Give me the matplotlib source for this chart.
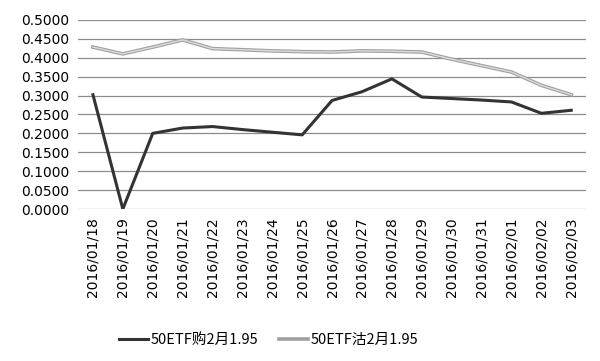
# 50ETF options price chart
import matplotlib
matplotlib.use("Agg")
from matplotlib import pyplot as plt

plt.rcParams['font.family'] = ['DejaVu Sans', 'Noto Sans CJK SC']

dates = ["2016/01/18", "2016/01/19", "2016/01/20", "2016/01/21", "2016/01/22",
         "2016/01/23", "2016/01/24", "2016/01/25", "2016/01/26", "2016/01/27",
         "2016/01/28", "2016/01/29", "2016/01/30", "2016/01/31", "2016/02/01",
         "2016/02/02", "2016/02/03"]
call_prices = [0.302, 0.000, 0.200, 0.214, 0.218, 0.210, 0.203, 0.196, 0.287,
               0.310, 0.344, 0.296, 0.292, 0.288, 0.283, 0.253, 0.261]
put_prices = [0.428, 0.410, 0.428, 0.447, 0.424, 0.421, 0.418, 0.416, 0.415,
              0.418, 0.417, 0.415, 0.396, 0.379, 0.362, 0.327, 0.302]
call_name = "50ETF购2月1.95"
put_name = "50ETF沽2月1.95"

fig, ax = plt.subplots(figsize=(6, 3.61), dpi=100)
fig.subplots_adjust(left=0.13, right=0.977, top=0.945, bottom=0.421)

x = list(range(len(dates)))
ax.plot(x, call_prices, color='#333333', linewidth=2.2, label=call_name)
ax.plot(x, put_prices, color='#a0a0a0', linewidth=2.6, label=put_name)
ax.plot(x, put_prices, color='#dcdcdc', linewidth=1.0)

ax.set_ylim(0, 0.5)
ax.set_yticks([i * 0.05 for i in range(11)])
ax.set_yticklabels([f"{i * 0.05:.4f}" for i in range(11)], fontsize=10)
ax.set_xlim(-0.5, len(dates) - 0.5)
ax.set_xticks(x)
ax.set_xticklabels(dates, rotation=90, fontsize=10)
ax.tick_params(length=0, pad=6)
ax.yaxis.grid(True, color='#8c8c8c', linewidth=0.9)
ax.set_axisbelow(True)
for s in ax.spines.values():
    s.set_visible(False)

ax.legend(loc='upper center', bbox_to_anchor=(0.375, -0.585), ncol=2, frameon=False,
          prop={'family': ['Noto Sans CJK SC'], 'size': 10.5},
          handlelength=2.0, handletextpad=0.2, columnspacing=1.4)

plt.savefig("out.png")
